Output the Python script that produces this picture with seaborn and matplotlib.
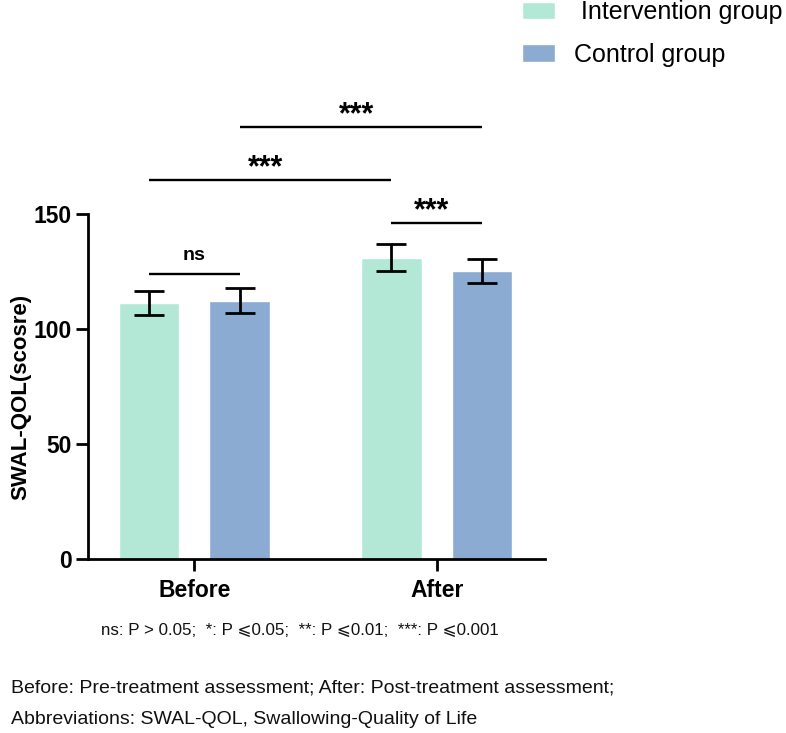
import matplotlib
matplotlib.use("Agg")
import matplotlib.pyplot as plt
import seaborn as sns
import pandas as pd

# ---- data ----
timepoints = ["Before", "After"]
groups = ["Intervention group", "Control group"]
intervention_mean = [111.2, 131.0]
intervention_err = [5.2, 5.8]
control_mean = [112.3, 125.4]
control_err = [5.4, 5.2]
y_ticks = [0, 50, 100, 150]
y_label = "SWAL-QOL(scosre)"

# significance brackets: (time A, group A), (time B, group B), height, label
brackets = [
    ("Before", "Intervention group", "Before", "Control group", 124.0, "ns"),
    ("After", "Intervention group", "After", "Control group", 146.2, "***"),
    ("Before", "Intervention group", "After", "Intervention group", 164.8, "***"),
    ("Before", "Control group", "After", "Control group", 187.7, "***"),
]

note_sig = "ns: P > 0.05;  *: P \u2a7d0.05;  **: P \u2a7d0.01;  ***: P \u2a7d0.001"
note_1 = "Before: Pre-treatment assessment; After: Post-treatment assessment;"
note_2 = "Abbreviations: SWAL-QOL, Swallowing-Quality of Life"

colors = ["#B4E8D6", "#8CABD3"]

# ---- style ----
sns.set_style("ticks")
plt.rcParams["font.family"] = ["Liberation Sans", "DejaVu Sans"]
plt.rcParams["text.color"] = "black"
plt.rcParams["axes.labelcolor"] = "black"

df = pd.DataFrame({
    "time": timepoints * 2,
    "group": [groups[0]] * 2 + [groups[1]] * 2,
    "score": intervention_mean + control_mean,
})
errs = {groups[0]: intervention_err, groups[1]: control_err}

fig = plt.figure(figsize=(7.86, 7.33), dpi=100)
ax = fig.add_axes([88 / 786, 1 - 559 / 733, (545 - 88) / 786, (559 - 214) / 733])

sns.barplot(data=df, x="time", y="score", hue="group", order=timepoints,
            hue_order=groups, palette=colors, width=0.75, gap=1 / 3,
            errorbar=None, saturation=1, ax=ax, legend=True)

# error bars positioned from the drawn bars
centers = {}
for g, cont in zip(groups, ax.containers):
    for t, bar, e in zip(timepoints, cont, errs[g]):
        cx = bar.get_x() + bar.get_width() / 2
        h = bar.get_height()
        centers[(t, g)] = cx
        ax.errorbar(cx, h, yerr=e, fmt="none", ecolor="black", elinewidth=2,
                    capsize=10.8, capthick=2, zorder=3)

# brackets
for ta, ga, tb, gb, yb, lab in brackets:
    x1, x2 = centers[(ta, ga)], centers[(tb, gb)]
    ax.plot([x1, x2], [yb, yb], color="black", lw=1.7, clip_on=False,
            solid_capstyle="butt")
    if lab == "ns":
        ax.text((x1 + x2) / 2, yb + 6.0, lab, ha="center", va="baseline",
                fontsize=14, fontweight="bold", color="black")
    else:
        ax.text((x1 + x2) / 2 - 0.02, yb + 1.6, lab, ha="center", va="baseline",
                fontsize=22, fontweight="bold", color="black")

ax.set_ylim(0, 150)
ax.set_xlim(-0.4385, 1.447)
ax.set_yticks(y_ticks)
ax.set_xlabel("")
ax.set_ylabel(y_label, fontsize=16, fontweight="bold", color="black")
ax.yaxis.set_label_coords(-0.125, 0.47)
for lbl in ax.get_xticklabels() + ax.get_yticklabels():
    lbl.set_fontweight("bold")
ax.tick_params(axis="both", length=8.6, width=2, color="black",
               labelsize=16.5, labelcolor="black")
ax.tick_params(axis="y", pad=3)
ax.tick_params(axis="x", pad=6)
for s in ["left", "bottom"]:
    ax.spines[s].set_linewidth(2)
    ax.spines[s].set_color("black")
sns.despine(ax=ax)

handles, _ = ax.get_legend_handles_labels()
ax.legend(handles, [" " + groups[0], groups[1]], loc="upper left",
          bbox_to_anchor=(522 / 786, 1.0), bbox_transform=fig.transFigure,
          frameon=False, fontsize=18, handlelength=1.32, handleheight=0.68,
          handletextpad=0.76, labelspacing=0.75, borderpad=0, borderaxespad=0)

fig.text(300 / 786, 1 - 630 / 733, note_sig, ha="center", va="center", fontsize=12.2,
         color="#111111")
fig.text(11 / 786, 1 - 688 / 733, note_1, ha="left", va="center", fontsize=14,
         color="#111111")
fig.text(11 / 786, 1 - 720 / 733, note_2, ha="left", va="center", fontsize=14,
         color="#111111")

fig.savefig("out.png", dpi=100)
